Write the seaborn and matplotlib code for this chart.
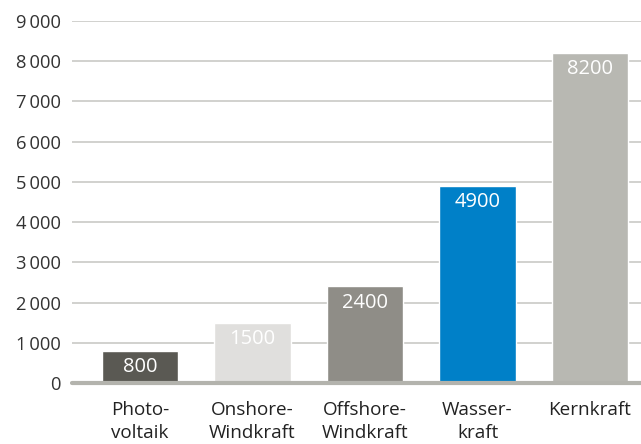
import matplotlib
matplotlib.use("Agg")
import matplotlib.pyplot as plt
import seaborn as sns
import pandas as pd

# Data
categories = ["Photo-\nvoltaik", "Onshore-\nWindkraft", "Offshore-\nWindkraft", "Wasser-\nkraft", "Kernkraft"]
values = [800, 1500, 2400, 4900, 8200]
bar_colors = ["#5a5953", "#e0dfdd", "#8f8d87", "#0080c8", "#b8b8b2"]
y_ticks = [0, 1000, 2000, 3000, 4000, 5000, 6000, 7000, 8000, 9000]

sns.set_theme(style="white")
plt.rcParams["font.family"] = ["Open Sans", "DejaVu Sans"]

df = pd.DataFrame({"cat": categories, "val": values})

fig = plt.figure(figsize=(6.41, 4.44), dpi=100)
ax = fig.add_axes([72 / 641, 61 / 444, 1 - 72 / 641, 362 / 444])

sns.barplot(data=df, x="cat", y="val", hue="cat", palette=bar_colors,
            width=0.68, legend=False, ax=ax, saturation=1, zorder=3)

ax.set_xlim(-0.604, 4.453)
ax.set_ylim(0, 9000)

# Grid lines and baseline
for t in y_ticks[1:]:
    ax.axhline(t, color="#cacac6", lw=1.2, zorder=1)
ax.axhline(0, color="#b3b3ad", lw=3, zorder=4, clip_on=False)

for s in ax.spines.values():
    s.set_visible(False)

def fmt(v):
    return f"{v:,}".replace(",", "\u2009")

ax.set_yticks(y_ticks)
ax.set_yticklabels([fmt(t) for t in y_ticks], fontsize=13.2, color="#333333")
ax.tick_params(axis="y", length=0, pad=8)
ax.tick_params(axis="x", length=0, pad=13, labelsize=13.6, labelcolor="#222222")
ax.set_xlabel("")
ax.set_ylabel("")
for lbl in ax.get_xticklabels():
    lbl.set_linespacing(1.32)

# Value labels inside the bar tops
for i, v in enumerate(values):
    ax.text(i, v - 400, f"{v}", ha="center", va="center", color="white",
            fontsize=14.5, zorder=5)

fig.savefig("out.png", dpi=100)
